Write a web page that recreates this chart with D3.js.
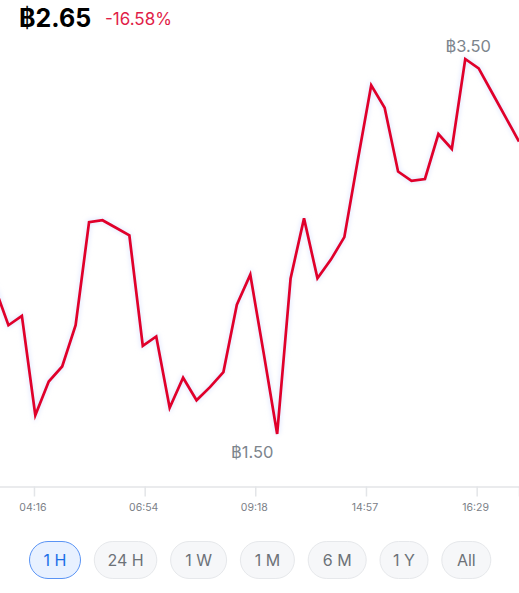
<!DOCTYPE html>
<html lang="en">
<head>
<meta charset="UTF-8">
<title>Price chart</title>
<script src="https://d3js.org/d3.v7.min.js"></script>
<style>
  body { margin: 0; background: #fff; overflow: hidden; font-family: Inter, 'Noto Sans', 'DejaVu Sans', sans-serif; }
  svg { display: block; }
  .axis path { stroke: #e3e5e8; stroke-width: 1.5; }
  .axis line { stroke: #e3e5e8; stroke-width: 1.5; }
  .axis text { fill: #7b8087; font-size: 10.5px; font-family: Inter, sans-serif; }
</style>
</head>
<body>
<div id="chart"></div>
<script>
  // prices, one per time step
  const prices = [2.28, 2.08, 2.13, 1.60, 1.78, 1.86, 2.08, 2.63, 2.64, 2.60,
                  2.56, 1.97, 2.02, 1.64, 1.80, 1.68, 1.75, 1.83, 2.19, 2.35,
                  1.93, 1.50, 2.33, 2.65, 2.33, 2.43, 2.55, 2.96, 3.36, 3.24,
                  2.90, 2.85, 2.86, 3.10, 3.02, 3.50, 3.45, 3.32, 3.19, 3.06];
  const tickSteps = [2.9, 11.14, 19.37, 27.61, 35.85];
  const tickLabels = ["04:16", "06:54", "09:18", "14:57", "16:29"];
  const ranges = ["1 H", "24 H", "1 W", "1 M", "6 M", "1 Y", "All"];
  const rangeWidths = [51, 62.5, 56, 54, 58, 48, 49];
  const activeRange = "1 H";
  const lastPrice = "฿2.65";
  const change = "-16.58%";
  const highLabel = "฿3.50";
  const lowLabel = "฿1.50";

  const width = 519, height = 593;
  const axisY = 486.5;

  const svg = d3.select("#chart").append("svg")
      .attr("width", width)
      .attr("height", height);

  const x = d3.scaleLinear().domain([0, prices.length - 1]).range([-5, 519]);
  const y = d3.scaleLinear().domain([1.5, 3.5]).range([434, 59]);

  const line = d3.line()
      .x((d, i) => x(i))
      .y(d => y(d));

  const defs = svg.append("defs");
  defs.append("filter").attr("id", "glow")
      .attr("x", "-5%").attr("y", "-5%").attr("width", "110%").attr("height", "110%")
    .append("feGaussianBlur").attr("stdDeviation", 2.5);

  // faint blue halo under the line
  svg.append("path")
      .attr("d", line(prices))
      .attr("fill", "none")
      .attr("stroke", "#dfe6ff")
      .attr("stroke-width", 4)
      .attr("filter", "url(#glow)");

  svg.append("path")
      .attr("d", line(prices))
      .attr("fill", "none")
      .attr("stroke", "#e0002b")
      .attr("stroke-width", 2.7)
      .attr("stroke-linejoin", "miter");

  const axis = d3.axisBottom(x)
      .tickValues(tickSteps)
      .tickFormat((d, i) => tickLabels[i])
      .tickSize(10)
      .tickPadding(7);

  svg.append("g")
      .attr("class", "axis")
      .attr("transform", `translate(0,${axisY})`)
      .call(axis)
      .selectAll("text").attr("dx", -1.5);

  // header
  svg.append("text")
      .attr("x", 19).attr("y", 27)
      .attr("font-size", 25).attr("font-weight", 700).attr("fill", "#000")
      .text(lastPrice);
  svg.append("text")
      .attr("x", 105).attr("y", 25)
      .attr("font-size", 17).attr("fill", "#e11d48")
      .text(change);

  // min and max labels
  svg.append("text")
      .attr("x", x(prices.indexOf(d3.max(prices))) + 3).attr("y", 52)
      .attr("text-anchor", "middle").attr("font-size", 16.5).attr("fill", "#7d858d")
      .text(highLabel);
  svg.append("text")
      .attr("x", x(prices.indexOf(d3.min(prices))) - 25).attr("y", 458)
      .attr("text-anchor", "middle").attr("font-size", 16.5).attr("fill", "#7d858d")
      .text(lowLabel);

  // range buttons
  let bx = 29;
  ranges.forEach((r, i) => {
    const w = rangeWidths[i];
    const on = r === activeRange;
    const g = svg.append("g").attr("transform", `translate(${bx},541)`);
    g.append("rect")
        .attr("x", 0.5).attr("y", 0.5)
        .attr("width", w).attr("height", 37).attr("rx", 18.5)
        .attr("fill", on ? "#e8f1ff" : "#f6f7f9")
        .attr("stroke", on ? "#5a94f5" : "#e6e8eb")
        .attr("stroke-width", 1);
    g.append("text")
        .attr("x", w / 2 + 0.5).attr("y", 25)
        .attr("text-anchor", "middle").attr("font-size", 16)
        .attr("fill", on ? "#1a6fe8" : "#6d7278")
        .text(r);
    bx += w + 13.8;
  });
</script>
</body>
</html>
